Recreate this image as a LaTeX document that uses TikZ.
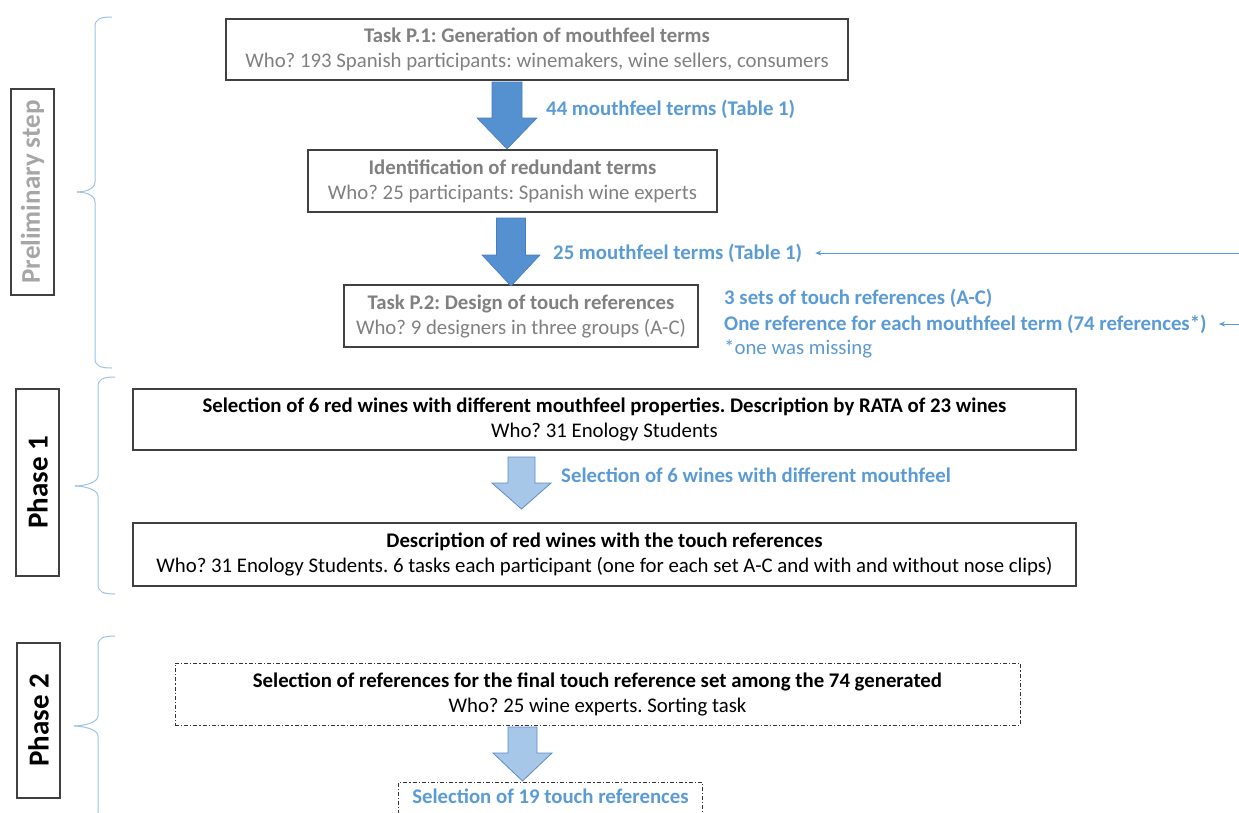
\documentclass[tikz,border=0pt]{standalone}
\usepackage{fontspec}
\setmainfont{Carlito}
\frenchspacing
\usetikzlibrary{arrows.meta}
\definecolor{boxline}{HTML}{404040}
\definecolor{graytext}{HTML}{808080}
\definecolor{labgray}{HTML}{A6A6A6}
\definecolor{bluetext}{HTML}{5B9BD5}
\definecolor{bracecol}{HTML}{9DC3E6}
\definecolor{darkfill}{HTML}{5590D0}
\definecolor{darkedge}{HTML}{4A7EBB}
\definecolor{lightfill}{HTML}{A7C7E8}
\definecolor{lightedge}{HTML}{5B8CC4}
\newcommand\blockarrow[7]{%
  \draw[#1] (#2-#6,#3) -- (#2+#6,#3) -- (#2+#6,#4) -- (#2+#7,#4) -- (#2,#5) -- (#2-#7,#4) -- (#2-#6,#4) -- cycle;}
\newcommand\phasebrace[5]{% xv xtip ytop ymid ybot
  \draw[brace] (#1+17,#3) .. controls (#1+5,#3) and (#1,#3+2) .. (#1,#3+10) -- (#1,#4-10) .. controls (#1,#4-3) and (#2+8,#4) .. (#2,#4);
  \draw[brace] (#2,#4) .. controls (#2+8,#4) and (#1,#4+3) .. (#1,#4+10) -- (#1,#5-10) .. controls (#1,#5-2) and (#1+5,#5) .. (#1+17,#5);}
\newcommand\mainsize{\fontsize{20.8}{25}\selectfont}
\tikzset{
  every node/.style={font=\mainsize},
  box/.style={draw=boxline, line width=1.3pt, align=center, inner sep=0pt},
  dashline/.style={draw=black!80, line width=1pt, dash pattern=on 4pt off 2pt on 1.2pt off 2pt},
  dashbox/.style={dashline, align=center, inner sep=0pt},
  sidebox/.style={draw=boxline, line width=1.3pt, rotate=90, inner sep=0pt},
  brace/.style={draw=bracecol, line width=1pt},
  darkarrow/.style={fill=darkfill, draw=darkedge, line width=0.6pt},
  lightarrow/.style={fill=lightfill, draw=lightedge, line width=0.8pt},
  bluelab/.style={text=bluetext, font=\mainsize\bfseries, anchor=west, inner sep=0pt},
  thinarrow/.style={draw=bluetext, line width=0.8pt, -{Stealth[length=6pt,width=5pt]}},
}
\begin{document}
\begin{tikzpicture}[x=1pt,y=-1pt]
\clip (0,0) rectangle (1239,812);
\fill[white] (0,0) rectangle (1239,812);

% side labels
\node[sidebox, minimum width=206pt, minimum height=43pt, text=labgray, font=\fontsize{27}{30}\selectfont\bfseries] (prelim) at (32.5,192) {Preliminary step};
\node[sidebox, minimum width=187pt, minimum height=43pt, font=\fontsize{29}{30}\selectfont\bfseries] (ph1) at (37.5,482.5) {Phase 1};
\node[sidebox, minimum width=155pt, minimum height=43pt, font=\fontsize{29}{30}\selectfont\bfseries] (ph2) at (38.5,720.5) {Phase 2};

% braces
\phasebrace{95}{77}{17}{192}{368}
\phasebrace{98}{75}{377}{486}{594}
\phasebrace{98}{74}{636}{726}{860}

% preliminary boxes
\node[box, minimum width=622pt, minimum height=61pt, text=graytext] (p1) at (537,49.5)
  {\textbf{Task P.1: Generation of mouthfeel terms}\\Who? 193 Spanish participants: winemakers, wine sellers, consumers};
\node[box, minimum width=409pt, minimum height=62pt, text=graytext] (ident) at (512.5,181)
  {\textbf{Identification of redundant terms}\\Who? 25 participants: Spanish wine experts};
\node[box, minimum width=354pt, minimum height=62pt, text=graytext] (p2) at (521,316)
  {\textbf{Task P.2: Design of touch references}\\Who? 9 designers in three groups (A-C)};

% phase 1 boxes
\node[box, minimum width=943pt, minimum height=61pt] (sel6) at (604.5,419.5)
  {\textbf{Selection of 6 red wines with different mouthfeel properties. Description by RATA of 23 wines}\\Who? 31 Enology Students};
\node[box, minimum width=943pt, minimum height=63pt] (desc) at (604.5,554.5)
  {\textbf{Description of red wines with the touch references}\\Who? 31 Enology Students. 6 tasks each participant (one for each set A-C and with and without nose clips)};

% phase 2 boxes
\node[dashbox, minimum width=845pt, minimum height=62pt] (selref) at (597.5,694)
  {\textbf{Selection of references for the final touch reference set among the 74 generated}\\Who? 25 wine experts. Sorting task};
\node[minimum width=303pt, minimum height=29pt, inner sep=0pt, anchor=north, text=bluetext, font=\mainsize\bfseries] (final) at (550.5,782)
  {Selection of 19 touch references};
\draw[dashline] ([yshift=-12pt]final.south west) |- (final.north east) -- ([yshift=-12pt]final.south east);

% block arrows
\blockarrow{darkarrow}{507}{82}{118}{149}{15}{30}
\blockarrow{darkarrow}{511}{218}{255}{286}{14.5}{29}
\blockarrow{lightarrow}{521.5}{457}{483}{509}{13.5}{29.5}
\blockarrow{lightarrow}{522.5}{727}{753}{781}{14.5}{29.5}

% labels
\node[bluelab] (l44) at (546,109) {44 mouthfeel terms (Table 1)};
\node[bluelab] (l25) at (553,253) {25 mouthfeel terms (Table 1)};
\node[bluelab] (lsets) at (724,298) {3 sets of touch references (A-C)};
\node[bluelab] (lone) at (724,324) {One reference for each mouthfeel term (74 references*)};
\node[bluelab, font=\mainsize] (lmiss) at (724,349) {*one was missing};
\node[bluelab] (lsel) at (561,475) {Selection of 6 wines with different mouthfeel};

% thin arrows from the right edge
\coordinate (r1) at (1239,253);
\coordinate (r2) at (1239,324);
\draw[thinarrow, shorten >=13pt] (r1) -- (l25.east |- r1);
\draw[thinarrow, shorten >=12pt] (r2) -- (lone.east |- r2);
\end{tikzpicture}
\end{document}
